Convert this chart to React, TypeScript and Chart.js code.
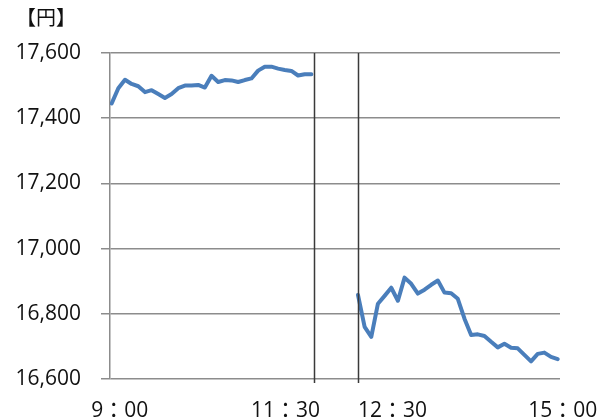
import React, { useEffect, useRef } from "react";
import { Chart, registerables } from "chart.js";

Chart.register(...registerables);

// Morning session 9:00–11:30, 5-minute steps (31 points)
const morningPrices = [
  17445, 17492, 17518, 17505, 17498, 17480, 17486, 17474, 17462, 17474,
  17492, 17500, 17500, 17502, 17494, 17530, 17511, 17517, 17516, 17511,
  17517, 17522, 17546, 17558, 17558, 17552, 17548, 17545, 17531, 17535,
  17535,
];
// Afternoon session 12:30–15:00, 5-minute steps (31 points)
const afternoonPrices = [
  16858, 16760, 16729, 16831, 16855, 16880, 16840, 16911, 16892, 16862,
  16874, 16889, 16902, 16865, 16863, 16846, 16785, 16735, 16737, 16732,
  16714, 16697, 16708, 16696, 16694, 16674, 16654, 16677, 16681, 16668,
  16661,
];
// slot indices on the x scale
const morningStart = 0;
const afternoonStart = 37;
const sessionBreaks = [30.4, 37];
const xTickLabels = ["9：00", "11：30", "12：30", "15：00"];
const xTickSlots = [0, 30.4, 37, 67];
const yMin = 16600;
const yMax = 17600;
const yStep = 200;
const unitLabel = "【円】";

const LINE_COLOR = "#4A7EBB";
const GRID_COLOR = "#8C8C8C";

export default function App() {
  const ref = useRef<HTMLCanvasElement | null>(null);

  useEffect(() => {
    document.body.style.margin = "0";
    const canvas = ref.current;
    if (!canvas) return;

    const data: { x: number; y: number | null }[] = [];
    morningPrices.forEach((v, i) => data.push({ x: morningStart + i, y: v }));
    data.push({ x: (morningStart + morningPrices.length + afternoonStart) / 2, y: null });
    afternoonPrices.forEach((v, i) => data.push({ x: afternoonStart + i, y: v }));

    const overlay = {
      id: "overlay",
      afterDatasetsDraw(chart: any) {
        const { ctx, chartArea, scales } = chart;
        const xs = scales.x;
        ctx.save();
        // session separators
        ctx.strokeStyle = "#3A3A3A";
        ctx.lineWidth = 1.5;
        sessionBreaks.forEach((b) => {
          const px = Math.round(xs.getPixelForValue(b)) + 0.5;
          ctx.beginPath();
          ctx.moveTo(px, chartArea.top);
          ctx.lineTo(px, chartArea.bottom + 4);
          ctx.stroke();
        });
        // x labels
        ctx.fillStyle = "#111";
        ctx.font = '21px "Open Sans", "Noto Sans CJK JP", sans-serif';
        ctx.textBaseline = "alphabetic";
        const aligns: CanvasTextAlign[] = ["center", "right", "left", "center"];
        const offsets = [8, 6, 0, 5];
        xTickLabels.forEach((t, i) => {
          ctx.textAlign = aligns[i];
          ctx.fillText(t, xs.getPixelForValue(xTickSlots[i]) + offsets[i], 417);
        });
        // unit label
        ctx.font = '20px "Noto Sans CJK JP", sans-serif';
        ctx.textAlign = "left";
        ctx.textBaseline = "middle";
        ctx.fillText(unitLabel, 16, 17);
        ctx.restore();
      },
    };

    const chart = new Chart(canvas, {
      type: "line",
      data: {
        datasets: [
          {
            data: data as any,
            borderColor: LINE_COLOR,
            borderWidth: 4,
            pointRadius: 0,
            tension: 0,
            spanGaps: false,
            borderJoinStyle: "round",
            borderCapStyle: "round",
          },
        ],
      },
      options: {
        responsive: false,
        animation: false,
        parsing: true,
        layout: { padding: { top: 53, bottom: 41, right: 40, left: 0 } },
        plugins: { legend: { display: false }, tooltip: { enabled: false } },
        scales: {
          x: {
            type: "linear",
            min: -0.25,
            max: 67.35,
            display: false,
          },
          y: {
            min: yMin,
            max: yMax,
            afterFit: (s: any) => {
              s.width = 110;
            },
            ticks: {
              stepSize: yStep,
              padding: 20,
              color: "#111",
              font: { family: '"Open Sans", sans-serif', size: 21 },
              callback: (v: any) => Number(v).toLocaleString("en-US"),
            },
            grid: {
              color: GRID_COLOR,
              lineWidth: 1.5,
              tickLength: 9,
            },
            border: { display: true, color: GRID_COLOR, width: 1.5 },
          },
        },
      },
      plugins: [overlay],
    });
    return () => chart.destroy();
  }, []);

  return (
    <div style={{ width: 600, height: 420 }}>
      <canvas ref={ref} width={600} height={420} />
    </div>
  );
}
